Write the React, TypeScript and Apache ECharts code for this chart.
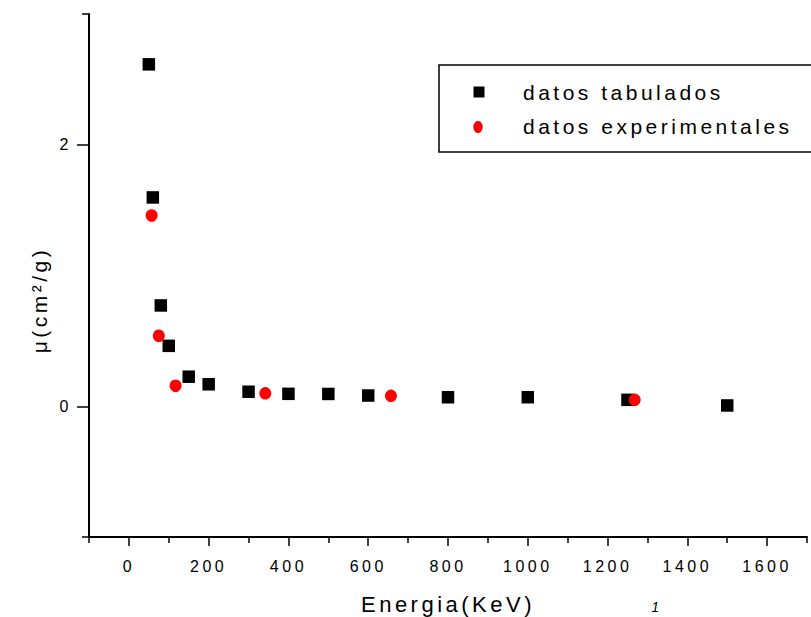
import React, { useEffect, useRef } from "react";
import * as echarts from "echarts";

// Datos tabulados (black squares)
const tabEnergy = [50, 60, 80, 100, 150, 200, 300, 400, 500, 600, 800, 1000, 1250, 1500];
const tabMu = [2.615, 1.597, 0.771, 0.462, 0.226, 0.168, 0.111, 0.095, 0.094, 0.082, 0.069, 0.069, 0.049, 0.006];

// Datos experimentales (red circles)
const expEnergy = [57, 75, 117, 342, 657, 1268];
const expMu = [1.459, 0.539, 0.157, 0.099, 0.08, 0.049];

// Axis ticks / labels
const xMajorTicks = [0, 200, 400, 600, 800, 1000, 1200, 1400, 1600];
const xMinorTicks = [-100, 100, 300, 500, 700, 900, 1100, 1300, 1500, 1700];
const yMajorTicks = [0, 2];
const yEndTicks = [-1, 3];

const seriesNames = ["datos tabulados", "datos experimentales"];
const xTitle = "Energia(KeV)";
const yTitle = "μ(cm²/g)";

const FONT = '"Liberation Sans", Arial, sans-serif';

export default function App() {
  const ref = useRef<HTMLDivElement>(null);

  useEffect(() => {
    if (!ref.current) return;
    const chart = echarts.init(ref.current, undefined, { renderer: "svg" });
    const axisLine = { show: true, onZero: false, lineStyle: { color: "#000", width: 2 } };
    const plain = (v: number) => String(v);
    chart.setOption({
      animation: false,
      backgroundColor: "#fff",
      grid: { left: 89, right: 4, top: 14, bottom: 80, containLabel: false, outerBoundsMode: "none" },
      xAxis: [
        {
          type: "value",
          position: "bottom",
          min: -100,
          max: 1700,
          axisLine,
          splitLine: { show: false },
          axisTick: { show: true, inside: false, length: 9, customValues: xMajorTicks, lineStyle: { color: "#000", width: 1.5 } },
          axisLabel: { show: true, customValues: xMajorTicks, formatter: plain, margin: 21, color: "#000", fontSize: 16, fontFamily: FONT },
          name: xTitle,
          nameLocation: "middle",
          nameGap: 56,
          nameTextStyle: { color: "#000", fontSize: 22, fontFamily: FONT },
        },
        {
          type: "value",
          position: "bottom",
          min: -100,
          max: 1700,
          axisLine: { show: false, onZero: false },
          splitLine: { show: false },
          axisTick: { show: true, inside: false, length: 6, customValues: xMinorTicks, lineStyle: { color: "#000", width: 1.5 } },
          axisLabel: { show: false },
        },
      ],
      yAxis: [
        {
          type: "value",
          position: "left",
          min: -1,
          max: 3,
          axisLine,
          splitLine: { show: false },
          axisTick: { show: true, inside: false, length: 12, customValues: yMajorTicks, lineStyle: { color: "#000", width: 1.5 } },
          axisLabel: { show: true, customValues: yMajorTicks, formatter: plain, margin: 17, color: "#000", fontSize: 16, fontFamily: FONT },
        },
        {
          type: "value",
          position: "left",
          min: -1,
          max: 3,
          axisLine: { show: false, onZero: false },
          splitLine: { show: false },
          axisTick: { show: true, inside: false, length: 7, customValues: yEndTicks, lineStyle: { color: "#000", width: 1.5 } },
          axisLabel: { show: false },
        },
      ],
      series: [
        {
          name: seriesNames[0],
          type: "scatter",
          symbol: "rect",
          symbolSize: 12.5,
          itemStyle: { color: "#000", opacity: 1 },
          data: tabEnergy.map((e, i) => [e, tabMu[i]]),
          z: 3,
        },
        {
          name: seriesNames[1],
          type: "scatter",
          symbol: "circle",
          symbolSize: [12, 12.5],
          itemStyle: { color: "#ff0000", opacity: 1 },
          data: expEnergy.map((e, i) => [e, expMu[i]]),
          z: 4,
        },
      ],
      graphic: [
        {
          type: "rect",
          shape: { x: 439, y: 65, width: 420, height: 87 },
          style: { fill: "#fff", stroke: "#000", lineWidth: 1.5 },
          z: 10,
        },
        {
          type: "rect",
          shape: { x: 473.5, y: 86.5, width: 11, height: 11 },
          style: { fill: "#000" },
          z: 11,
        },
        {
          type: "ellipse",
          shape: { cx: 478, cy: 127, rx: 4.7, ry: 6 },
          style: { fill: "#ff0000" },
          z: 11,
        },
        {
          type: "text",
          x: 523,
          y: 92.5,
          style: { text: seriesNames[0], fill: "#000", font: `21px ${FONT}`, align: "left", verticalAlign: "middle" },
          z: 11,
        },
        {
          type: "text",
          x: 523,
          y: 126.5,
          style: { text: seriesNames[1], fill: "#000", font: `21px ${FONT}`, align: "left", verticalAlign: "middle" },
          z: 11,
        },
        {
          type: "text",
          x: 39,
          y: 300,
          rotation: Math.PI / 2,
          style: { text: yTitle, fill: "#000", font: `21px ${FONT}`, align: "center", verticalAlign: "middle" },
          z: 11,
        },
        {
          type: "text",
          x: 657,
          y: 607,
          style: { text: "1", fill: "#000", font: `italic 14px ${FONT}`, align: "center", verticalAlign: "middle" },
          z: 11,
        },
      ],
    });
    return () => chart.dispose();
  }, []);

  return (
    <>
      <style>{`.chartbox text { letter-spacing: 3.5px; }`}</style>
      <div
        ref={ref}
        className="chartbox"
        style={{ position: "fixed", left: 0, top: 0, width: 811, height: 617, background: "#fff" }}
      />
    </>
  );
}
